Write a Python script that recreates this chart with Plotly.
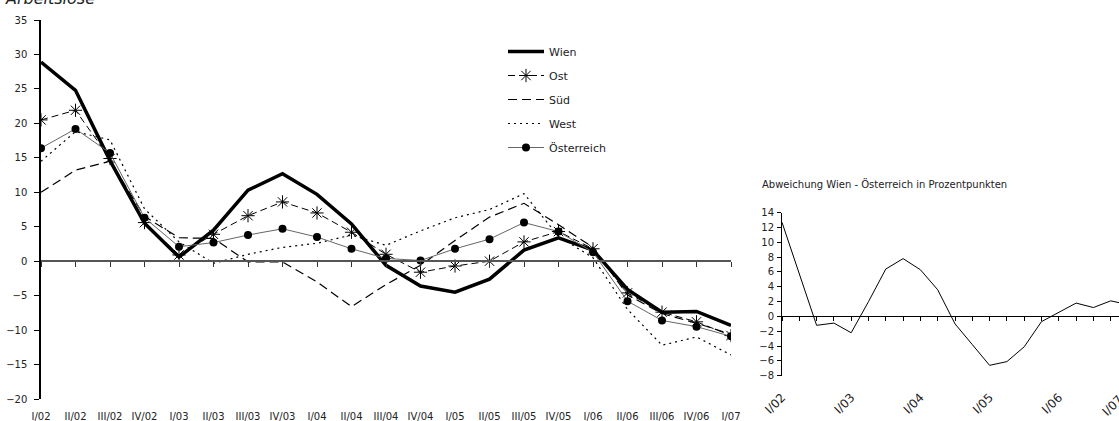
import plotly.graph_objects as go

quarters = ["I/02", "II/02", "III/02", "IV/02", "I/03", "II/03", "III/03", "IV/03",
            "I/04", "II/04", "III/04", "IV/04", "I/05", "II/05", "III/05", "IV/05",
            "I/06", "II/06", "III/06", "IV/06", "I/07"]

wien = [28.9, 24.8, 14.6, 5.5, 0.6, 4.5, 10.3, 12.7, 9.7, 5.4, -0.6, -3.6,
        -4.5, -2.6, 1.6, 3.4, 1.6, -4.1, -7.4, -7.3, -9.3]
ost = [20.5, 21.9, 14.9, 5.6, 0.9, 3.9, 6.6, 8.6, 7.0, 4.2, 1.0, -1.6,
       -0.7, 0.0, 2.8, 4.3, 1.8, -4.6, -7.4, -8.8, -10.8]
sued = [10.0, 13.2, 14.5, 6.5, 3.4, 3.3, -0.1, -0.1, -3.0, -6.6, -3.4, -0.6,
        3.0, 6.4, 8.4, 5.3, 2.0, -4.9, -7.6, -9.0, -10.6]
west = [14.5, 18.8, 17.6, 7.6, 2.8, -0.3, 1.0, 2.0, 2.6, 3.8, 2.3, 4.4,
        6.3, 7.5, 9.8, 3.6, 0.5, -7.0, -12.2, -11.0, -13.6]
oesterreich = [16.4, 19.2, 15.7, 6.3, 2.1, 2.7, 3.8, 4.7, 3.5, 1.8, 0.4, 0.1,
               1.8, 3.2, 5.6, 4.3, 1.3, -5.8, -8.6, -9.5, -10.9]
abweichung = [12.7, 5.6, -1.2, -0.9, -2.2, 2.0, 6.4, 7.8, 6.3, 3.6, -1.0, -3.8,
              -6.6, -6.1, -4.1, -0.7, 0.5, 1.8, 1.2, 2.1, 1.6]
inset_labels = ["I/02", "I/03", "I/04", "I/05", "I/06", "I/07"]

W, H = 1119, 421
FONT = "DejaVu Sans"
TXT = "#222"

main_x_dom = [41 / W, 731 / W]
main_y_dom = [(H - 399) / H, (H - 20) / H]
main_yr = [-20, 35]
zero_pos = main_y_dom[0] + (0 - main_yr[0]) / (main_yr[1] - main_yr[0]) * (main_y_dom[1] - main_y_dom[0])
n = len(quarters)

inset_left = 782
inset_step = 17.3
inset_x_dom = [inset_left / W, 1.0]
inset_y_dom = [(H - 375.7) / H, (H - 212.7) / H]
inset_yr = [-8, 14]
inset_zero = inset_y_dom[0] + (0 - inset_yr[0]) / (inset_yr[1] - inset_yr[0]) * (inset_y_dom[1] - inset_y_dom[0])
inset_xr = [0, (W - inset_left) / inset_step]
# paper position of the last inset category (lies just beyond the right edge)
last_label_x = (inset_left + (n - 1) * inset_step) / W

fig = go.Figure()

# zero axis helpers (empty traces so the overlay axes render)
fig.add_trace(go.Scatter(x=list(range(n)), y=[None] * n, xaxis="x3", yaxis="y",
                         showlegend=False, hoverinfo="skip"))
fig.add_trace(go.Scatter(x=list(range(n)), y=[None] * n, xaxis="x4", yaxis="y2",
                         showlegend=False, hoverinfo="skip"))

fig.add_trace(go.Scatter(x=quarters, y=wien, name="Wien", mode="lines",
                         line=dict(color="black", width=3.5), legendgroup="a"))
fig.add_trace(go.Scatter(x=quarters, y=ost, name="Ost", mode="lines+markers",
                         line=dict(color="black", width=1, dash="7px,4px"),
                         marker=dict(symbol="asterisk-open", size=11,
                                     line=dict(color="black", width=1)),
                         legendgroup="b"))
fig.add_trace(go.Scatter(x=quarters, y=sued, name="Süd", mode="lines",
                         line=dict(color="black", width=1.2, dash="9px,5px"), legendgroup="c"))
fig.add_trace(go.Scatter(x=quarters, y=west, name="West", mode="lines",
                         line=dict(color="black", width=1.2, dash="2px,4px"), legendgroup="d"))
fig.add_trace(go.Scatter(x=quarters, y=oesterreich, name="Österreich", mode="lines+markers",
                         line=dict(color="#666", width=1),
                         marker=dict(symbol="circle", size=8, color="black"),
                         legendgroup="e"))

fig.add_trace(go.Scatter(x=quarters, y=abweichung, xaxis="x2", yaxis="y2", mode="lines",
                         line=dict(color="black", width=1), showlegend=False))

fig.update_layout(
    width=W, height=H,
    margin=dict(l=0, r=0, t=0, b=0),
    paper_bgcolor="white", plot_bgcolor="rgba(0,0,0,0)",
    font=dict(family=FONT, size=10, color=TXT),
    showlegend=True,
    legend=dict(x=503 / W, y=(H - 37) / H, xanchor="left", yanchor="top",
                font=dict(size=11, color=TXT), bgcolor="rgba(0,0,0,0)",
                traceorder="grouped", tracegroupgap=5, itemwidth=36),
    xaxis=dict(domain=main_x_dom, anchor="y", type="category", automargin=False,
               categoryorder="array", categoryarray=quarters, range=[0, n - 1],
               showline=False, showgrid=False, zeroline=False,
               ticks="outside", ticklen=8, tickcolor="rgba(0,0,0,0)",
               tickfont=dict(size=10, color=TXT)),
    yaxis=dict(domain=main_y_dom, anchor="x", range=main_yr, dtick=5, automargin=False,
               showline=True, linecolor="black", linewidth=1.5,
               ticks="outside", ticklen=5, tickcolor="black", tickwidth=1,
               showgrid=False, zeroline=False, ticklabelstandoff=5,
               tickfont=dict(size=10, color=TXT)),
    xaxis3=dict(overlaying="x", anchor="free", position=zero_pos, type="linear",
                automargin=False,
                range=[0, n - 1], tick0=0, dtick=1, showticklabels=False,
                ticks="outside", ticklen=5, tickcolor="#333", tickwidth=1,
                showline=True, linecolor="#555", linewidth=1.5,
                showgrid=False, zeroline=False),
    xaxis2=dict(domain=inset_x_dom, anchor="y2", type="category", automargin=False,
                categoryorder="array", categoryarray=quarters, range=inset_xr,
                tickmode="array", tickvals=inset_labels, ticktext=inset_labels,
                tickangle=-45, showline=False, showgrid=False, zeroline=False,
                ticks="outside", ticklen=9, tickcolor="rgba(0,0,0,0)",
                tickfont=dict(size=12, color=TXT)),
    yaxis2=dict(domain=inset_y_dom, anchor="x2", range=inset_yr, dtick=2, automargin=False,
                showline=True, linecolor="black", linewidth=1,
                ticks="outside", ticklen=4, tickcolor="black",
                showgrid=False, zeroline=False, ticklabelstandoff=1,
                tickfont=dict(size=10, color=TXT)),
    xaxis4=dict(overlaying="x2", anchor="free", position=inset_zero, type="linear",
                automargin=False,
                range=inset_xr, tick0=0, dtick=1, showticklabels=False,
                ticks="outside", ticklen=4, tickcolor="black", tickwidth=1,
                showline=True, linecolor="black", linewidth=1,
                showgrid=False, zeroline=False),
    annotations=[
        dict(text="Arbeitslose", xref="paper", yref="paper", x=3 / W, y=(H + 1) / H,
             xanchor="left", yanchor="middle", showarrow=False,
             font=dict(size=16, style="italic", color=TXT)),
        dict(text="Abweichung Wien - Österreich in Prozentpunkten", xref="paper", yref="paper",
             x=760 / W, y=(H - 184) / H, xanchor="left", yanchor="middle", showarrow=False,
             font=dict(size=10, color=TXT)),
        dict(text=inset_labels[-1], xref="paper", yref="paper", x=last_label_x,
             y=inset_y_dom[0] - 14 / H, xanchor="right", yanchor="top",
             textangle=-45, showarrow=False, font=dict(size=12, color=TXT)),
    ],
)

fig.write_html("out.html")
